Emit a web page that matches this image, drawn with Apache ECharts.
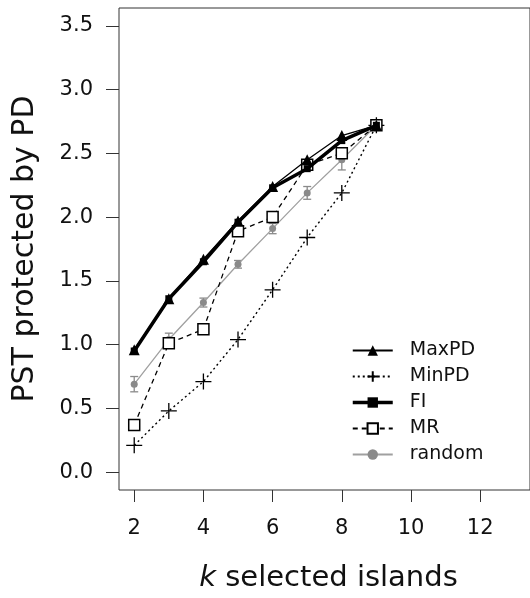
<!DOCTYPE html>
<html>
<head>
<meta charset="utf-8">
<script src="https://cdn.jsdelivr.net/npm/echarts@6/dist/echarts.min.js"></script>
<style>html,body{margin:0;padding:0;background:#fff;}#c{width:530px;height:598px;}</style>
</head>
<body>
<div id="c"></div>
<script>
const kValues = [2, 3, 4, 5, 6, 7, 8, 9];
const maxPD  = [0.96, 1.36, 1.67, 1.97, 2.24, 2.45, 2.64, 2.72];
const minPD  = [0.21, 0.48, 0.71, 1.04, 1.43, 1.84, 2.19, 2.72];
const fi     = [0.95, 1.36, 1.65, 1.96, 2.23, 2.38, 2.60, 2.72];
const mr     = [0.37, 1.01, 1.12, 1.89, 2.00, 2.41, 2.50, 2.72];
const randomMean = [0.69, 1.04, 1.33, 1.63, 1.91, 2.19, 2.45, 2.72];
const randomErr  = [0.06, 0.05, 0.035, 0.03, 0.04, 0.05, 0.08, 0.00];
const xTicks = [2, 4, 6, 8, 10, 12];
const yTicks = [0, 0.5, 1, 1.5, 2, 2.5, 3, 3.5];

const pair = arr => kValues.map((k, i) => [k, arr[i]]);
const GRAY = '#8a8a8a';
const FONT = '"DejaVu Sans", sans-serif';

const chart = echarts.init(document.getElementById('c'), null, {renderer: 'canvas'});
chart.setOption({
  animation: false,
  backgroundColor: '#fff',
  grid: {left: 119, top: 8, width: 419, height: 484, show: true, borderColor: '#333', borderWidth: 1, backgroundColor: 'transparent'},
  xAxis: {
    type: 'value', min: 1.56, max: 13.44,
    splitLine: {show: false},
    axisLine: {show: false, onZero: false},
    axisTick: {show: true, customValues: xTicks, length: 12, inside: false, lineStyle: {color: '#333', width: 1}},
    axisLabel: {customValues: xTicks, color: '#111', fontSize: 21, fontFamily: FONT, margin: 28, formatter: v => String(v)},
    name: '{i|k} selected islands',
    nameLocation: 'middle', nameGap: 74,
    nameTextStyle: {color: '#111', fontSize: 29, fontFamily: FONT, padding: [0, 0, 0, 8],
      rich: {i: {fontStyle: 'italic', fontSize: 29, fontFamily: FONT, color: '#111'}}}
  },
  yAxis: {
    type: 'value', min: -0.14, max: 3.64,
    splitLine: {show: false},
    axisLine: {show: false, onZero: false},
    axisTick: {show: true, customValues: yTicks, length: 13, lineStyle: {color: '#333', width: 1}},
    axisLabel: {customValues: yTicks, color: '#111', fontSize: 21, fontFamily: FONT, margin: 26,
      formatter: v => v.toFixed(1)},
    name: 'PST protected by PD',
    nameLocation: 'middle', nameGap: 79, nameRotate: 90,
    nameTextStyle: {color: '#111', fontSize: 30, fontFamily: FONT}
  },
  legend: {
    orient: 'vertical', left: 346, top: 336, itemWidth: 40, itemHeight: 13, itemGap: 7,
    textStyle: {fontSize: 19, fontFamily: FONT, color: '#111', padding: [0, 0, 0, 12]},
    data: [
      {name: 'MaxPD'},
      {name: 'MinPD'},
      {name: 'FI', lineStyle: {width: 3.5}},
      {name: 'MR'},
      {name: 'random'}
    ]
  },
  series: [
    {
      name: 'random', type: 'line', data: pair(randomMean), z: 2,
      symbol: 'circle', symbolSize: 7,
      lineStyle: {color: '#a0a0a0', width: 1.3}, itemStyle: {color: GRAY}
    },
    {
      name: 'randomErr', type: 'custom', z: 2,
      data: kValues.map((k, i) => [k, randomMean[i] - randomErr[i], randomMean[i] + randomErr[i]]),
      renderItem: function (params, api) {
        const lo = api.coord([api.value(0), api.value(1)]);
        const hi = api.coord([api.value(0), api.value(2)]);
        if (Math.abs(hi[1] - lo[1]) < 1) return null;
        const w = 4;
        const st = {stroke: GRAY, lineWidth: 1.3};
        return {type: 'group', children: [
          {type: 'line', shape: {x1: lo[0], y1: lo[1], x2: hi[0], y2: hi[1]}, style: st},
          {type: 'line', shape: {x1: lo[0] - w, y1: lo[1], x2: lo[0] + w, y2: lo[1]}, style: st},
          {type: 'line', shape: {x1: hi[0] - w, y1: hi[1], x2: hi[0] + w, y2: hi[1]}, style: st}
        ]};
      }
    },
    {
      name: 'MinPD', type: 'line', data: pair(minPD), z: 3,
      symbol: 'path://M0,-1L0,1M-1,0L1,0', symbolSize: 16,
      lineStyle: {color: '#000', width: 1.4, type: [2, 3]},
      itemStyle: {color: 'none', borderColor: '#000', borderWidth: 1.3}
    },
    {
      name: 'MR', type: 'line', data: pair(mr), z: 4,
      symbol: 'rect', symbolSize: 11,
      lineStyle: {color: '#000', width: 1.3, type: [5, 4]},
      itemStyle: {color: '#fff', borderColor: '#000', borderWidth: 1.5}
    },
    {
      name: 'FI', type: 'line', data: pair(fi), z: 5,
      symbol: 'rect', symbolSize: 7,
      lineStyle: {color: '#000', width: 3.5},
      itemStyle: {color: '#000'}
    },
    {
      name: 'MaxPD', type: 'line', data: pair(maxPD), z: 6,
      symbol: 'triangle', symbolSize: 11,
      lineStyle: {color: '#000', width: 1.3},
      itemStyle: {color: '#000'}
    }
  ]
});
</script>
</body>
</html>
